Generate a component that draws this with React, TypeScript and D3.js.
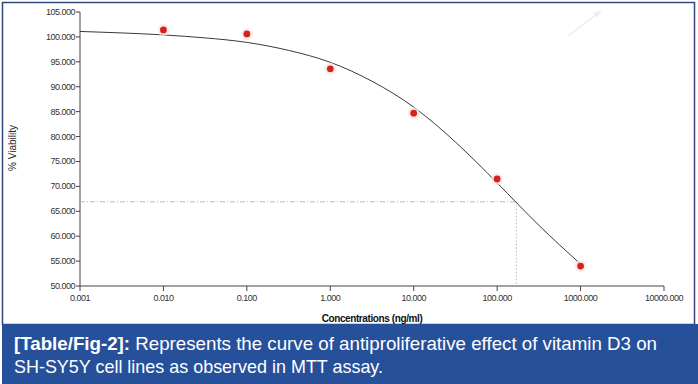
import React from "react";
import * as d3 from "d3";

const xTicks = [0.001, 0.01, 0.1, 1, 10, 100, 1000, 10000];
const xTickLabels = ["0.001", "0.010", "0.100", "1.000", "10.000", "100.000", "1000.000", "10000.000"];
const yTicks = [50, 55, 60, 65, 70, 75, 80, 85, 90, 95, 100, 105];
const yTickLabels = ["50.000", "55.000", "60.000", "65.000", "70.000", "75.000", "80.000", "85.000", "90.000", "95.000", "100.000", "105.000"];

const conc = [0.01, 0.1, 1, 10, 100, 1000];
const viability = [101.4, 100.6, 93.6, 84.7, 71.5, 54.0];

const curveX = [0.001, 0.00316, 0.01, 0.0316, 0.1, 0.316, 1, 3.16, 10, 31.6, 100, 316, 1000];
const curveY = [101.1, 100.8, 100.4, 99.8, 98.9, 97.3, 94.9, 91.1, 85.9, 78.9, 70.7, 62.2, 54.4];

const ic50X = 170;
const ic50Y = 66.9;

export default function App() {
  const W = 698, H = 384;
  const x = d3.scaleLog().domain([0.001, 10000]).range([80, 664]);
  const y = d3.scaleLinear().domain([50, 105]).range([286, 12]);
  const line = d3
    .line<number>()
    .x((_, i) => x(curveX[i]))
    .y((d) => y(d))
    .curve(d3.curveNatural);
  const tickFont = "'Liberation Sans', Arial, sans-serif";
  return (
    <svg width={W} height={H} style={{ position: "absolute", left: 0, top: 0 }}>
      <rect x={0} y={0} width={W} height={H} fill="#fff" />
      <rect x={2.5} y={2.5} width={692} height={322} fill="#fff" stroke="#2d4a7c" strokeWidth={1.5} />
      {/* faint arrow */}
      <line x1={568} y1={36} x2={601} y2={11} stroke="#ececec" strokeWidth={1.5} />
      <path d="M601,11 L593,13 L597,18 Z" fill="#ececec" />
      {/* axes */}
      <line x1={80} y1={y(105)} x2={80} y2={286} stroke="#444" strokeWidth={1} />
      <line x1={80} y1={286} x2={664} y2={286} stroke="#444" strokeWidth={1} />
      {yTicks.map((t, i) => (
        <g key={"y" + t}>
          <line x1={76} x2={80} y1={y(t)} y2={y(t)} stroke="#444" />
          <text x={75} y={y(t) + 3} textAnchor="end" fontSize={9} fontFamily={tickFont} fill="#333" letterSpacing={-0.5}>
            {yTickLabels[i]}
          </text>
        </g>
      ))}
      {xTicks.map((t, i) => (
        <g key={"x" + t}>
          <line x1={x(t)} x2={x(t)} y1={286} y2={291} stroke="#444" />
          <text x={x(t)} y={301} textAnchor="middle" fontSize={9} fontFamily={tickFont} fill="#333" letterSpacing={-0.5}>
            {xTickLabels[i]}
          </text>
        </g>
      ))}
      <text
        transform={`translate(16,148) rotate(-90)`}
        textAnchor="middle"
        fontSize={10}
        fontFamily={tickFont}
        fill="#222"
      >
        % Viability
      </text>
      <text x={372} y={322} textAnchor="middle" fontSize={10} fontWeight="bold" fontFamily={tickFont} fill="#111" letterSpacing={-0.4}>
        Concentrations (ng/ml)
      </text>
      {/* IC50 guides */}
      <line x1={80} x2={x(ic50X)} y1={y(ic50Y)} y2={y(ic50Y)} stroke="#aaa" strokeDasharray="5,2,1,2" strokeWidth={0.8} />
      <line x1={x(ic50X)} x2={x(ic50X)} y1={y(ic50Y)} y2={286} stroke="#aaa" strokeDasharray="1.5,2" strokeWidth={0.8} />
      {/* fitted curve */}
      <path d={line(curveY) || ""} fill="none" stroke="#3a3a3a" strokeWidth={1} />
      {/* data points */}
      {conc.map((c, i) => (
        <g key={"p" + c}>
          <circle cx={x(c)} cy={y(viability[i])} r={6} fill="#fbe3e3" opacity={0.7} />
          <circle cx={x(c)} cy={y(viability[i])} r={3.4} fill="#d42222" />
        </g>
      ))}
      {/* caption */}
      <rect x={2} y={324} width={696} height={60} fill="#27509b" />
      <text
        x={14}
        y={350}
        fontSize={18.5}
        fill="#fff"
        fontFamily="'Liberation Sans Narrow', 'Arial Narrow', 'Liberation Sans', Arial, sans-serif"
        textLength={643}
        lengthAdjust="spacingAndGlyphs"
      >
        <tspan fontWeight="bold">[Table/Fig-2]:</tspan>
        <tspan> Represents the curve of antiproliferative effect of vitamin D3 on</tspan>
      </text>
      <text
        x={14}
        y={373}
        fontSize={18.5}
        fill="#fff"
        fontFamily="'Liberation Sans Narrow', 'Arial Narrow', 'Liberation Sans', Arial, sans-serif"
        textLength={369}
        lengthAdjust="spacingAndGlyphs"
      >
        SH-SY5Y cell lines as observed in MTT assay.
      </text>
    </svg>
  );
}
